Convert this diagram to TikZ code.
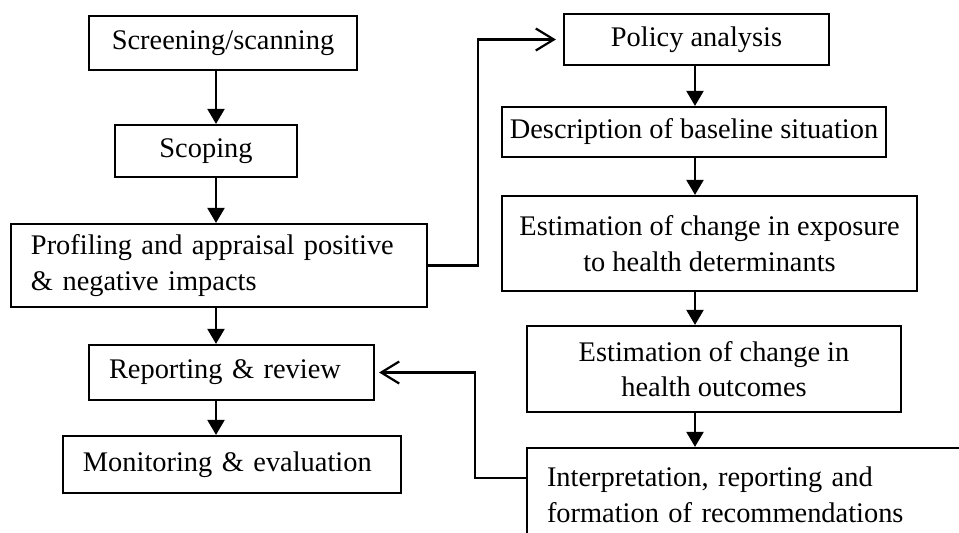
\documentclass[tikz,border=0pt]{standalone}
\usepackage{fontspec}
\setmainfont{Liberation Serif}
\usetikzlibrary{arrows.meta}
\begin{document}
\begin{tikzpicture}[x=0.5pt,y=-0.5pt,
  font=\fontsize{14.2}{17.8}\selectfont,
  box/.style={draw, line width=1.1pt, rectangle, inner sep=0pt, align=center},
  lbox/.style={draw, line width=1.1pt, rectangle, inner xsep=10pt, inner ysep=0pt, align=left},
  flow/.style={line width=1.1pt, -{Triangle[length=7.5pt,width=8.5pt]}},
  back/.style={line width=1.1pt, -{Straight Barb[length=9pt,width=11pt,line width=1.1pt]}}]
\useasboundingbox (0,0) rectangle (959,532);
\clip (0,0) rectangle (959,532);

% left column
\node[box, minimum width=134pt, minimum height=27pt] (scr) at (223,43) {Screening/scanning};
\node[box, minimum width=91pt, minimum height=26pt] (sco) at (206,151) {Scoping};
\node[lbox, text width=188pt, minimum height=41.5pt] (pro) at (219,265.5)
  {Profiling and appraisal positive\\ \& negative impacts};
\node[lbox, text width=122.5pt, minimum height=27.5pt] (rep) at (231.5,372.5) {Reporting \& review};
\node[lbox, text width=149pt, minimum height=28.5pt] (mon) at (232,464.5) {Monitoring \& evaluation};

% right column
\node[box, minimum width=132.5pt, minimum height=25.5pt] (pol) at (696.5,39.5) {Policy analysis};
\node[box, minimum width=192pt, minimum height=25pt] (des) at (694,132) {Description of baseline situation};
\node[box, minimum width=207.5pt, minimum height=47.5pt] (exp) at (709.5,243.5)
  {Estimation of change in exposure\\ to health determinants};
\node[box, minimum width=187pt, minimum height=43pt] (out) at (714,369)
  {Estimation of change in\\ health outcomes};
\node[lbox, text width=211.5pt, minimum height=47pt] (int) at (758.5,495)
  {Interpretation, reporting and\\ formation of recommendations};

% arrow columns
\coordinate (lx) at (216,0);
\coordinate (rx) at (695,0);

\draw[flow] (scr.south -| lx) -- (sco.north -| lx);
\draw[flow] (sco.south -| lx) -- (pro.north -| lx);
\draw[flow] (pro.south -| lx) -- (rep.north -| lx);
\draw[flow] (rep.south -| lx) -- (mon.north -| lx);

\draw[flow] (pol.south -| rx) -- (des.north -| rx);
\draw[flow] (des.south -| rx) -- (exp.north -| rx);
\draw[flow] (exp.south -| rx) -- (out.north -| rx);
\draw[flow] (out.south -| rx) -- (int.north -| rx);

% links between the two columns
\draw[back, shorten >=3.5pt] (pro.east) -- ++(50,0) |- (pol.west);
\coordinate (iout) at ([yshift=-15.5pt]int.north west);
\draw[back, shorten >=2pt] (iout) -- ++(-51,0) |- (rep.east);
\end{tikzpicture}
\end{document}
